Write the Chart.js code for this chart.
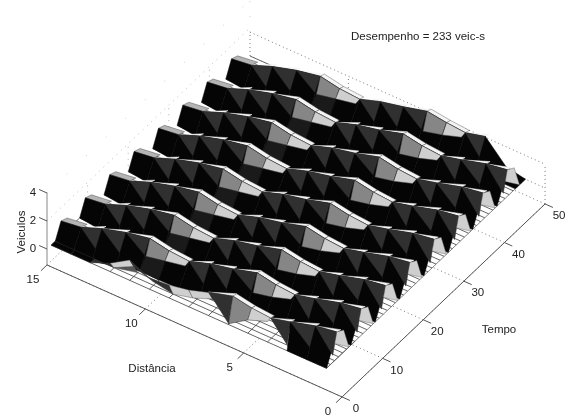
<!DOCTYPE html>
<html>
<head>
<meta charset="utf-8">
<style>html,body{margin:0;padding:0;background:#fff}canvas{display:block}</style>
<script src="https://cdn.jsdelivr.net/npm/chart.js@4/dist/chart.umd.min.js"></script>
</head>
<body>
<canvas id="grafico" width="579" height="418"></canvas>
<script>
// superficie veiculos(distancia, tempo) - cada onda e uma crista que desce a via
const distancia = [15,14,13,12,11,10,9,8,7,6,5,4,3,2,1];
const inicioOnda = [-2.55,3.45,9.45,15.45,21.45,27.45,33.45,39.45,45.45];
const avancoPico = [0,0.1,0.4,1.5,2.5,2.4,2.5,2.8,3.6,4.7,4.5,4.3,4.4,5.7,6.1];
const alturaPico = [1.05,1.2,1.65,1.7,1.63,1.4,1.25,1.62,1.66,1.71,1.54,1.51,1.83,1.81,1.9];
const quedaMeio = [1.4,1.4,1.4,1.4,1,0.45,0.05,1.4,1.4,1.15,0.6,0.05,1.4,1.4,1.4];
const recuoBase = [-1.4,-1.9,-2.5,-2.5,-2.5,-2.5,-2.5,-2.5,-2.5,-2.5,-2.5,-2.5,-2.5,-2.5,-2.5];
const tipoCelula = ['preto','escuro','escuro','escuro','cinza','claro','escuro','escuro','escuro','cinza','claro','escuro','escuro','escuro'];
// a primeira onda so aparece a partir da celula 8 e nessas celulas nao tem parede preta
const semParede = [8,9,10,11];
// primeiras linhas de tempo, antes da primeira onda completa
const frenteT1 = [0,0,0,0.6,1.45,0.8,0.92,1.2,1.65];
const frenteT2 = [0,0,0,0,0.7,0.25,0,0.35,0.9];
const corFrente = ['preto','preto','escuro','claro','escuro','escuro','claro','claro'];

const ticksDistancia = [0,5,10,15];
const ticksTempo = [0,10,20,30,40,50];
const ticksVeiculos = [0,2,4];
const zPiso = -1.14;

const cores = {preto:'#050505', escuro:'#303030', fundo:'#1a1a1a', cinza:'#868686', claro:'#cfcfcf', topo:'#f4f4f4', inicio:'#b4b4b4'};

function proj(d, t, z) {
  return {x: 47 + 4.06*t + 19.67*(15-d), y: 249 - 3.86*t + 8.8*(15-d) - 14*z};
}

const camadas = [];

function poligono(pts, cor, borda, larg) {
  camadas.push({data: [...pts, pts[0]], showLine: true, pointRadius: 0, tension: 0, fill: 'shape',
    backgroundColor: cor, borderColor: borda || cor, borderWidth: larg || 0.5});
}

function linha(pts, cor, larg, traco) {
  camadas.push({data: pts, showLine: true, pointRadius: 0, tension: 0, fill: false,
    borderColor: cor, borderWidth: larg, borderDash: traco || []});
}

// paredes e piso pontilhados
const ponto = [1,3];
ticksTempo.forEach(t => {
  linha([proj(0,t,zPiso), proj(15,t,zPiso)], '#555', 0.8, ponto);
  if (t > 0 && t < 50) linha([proj(15,t,0), proj(15,t,2)], '#999', 0.8, [1,5]);
});
ticksDistancia.forEach(d => {
  linha([proj(d,0,zPiso), proj(d,50,zPiso)], '#555', 0.8, ponto);
  linha([proj(d,50,zPiso), proj(d,50,1.7)], '#555', 0.8, ponto);
});
linha([proj(15,50,0), proj(0,50,0)], '#555', 0.8, ponto);
linha([proj(15,50,1.7), proj(0,50,1.7)], '#555', 0.8, ponto);
linha([proj(15,0,2), proj(15,50,2)], '#aaa', 0.8, [1,5]);
linha([proj(15,0,4), proj(15,50,4)], '#bbb', 0.8, [1,26]);
linha([proj(15,50,1.7), proj(15,50,4)], '#bbb', 0.8, [1,14]);

// malha no piso
poligono([proj(15,1,0), proj(1,1,0), proj(1,50,0), proj(15,50,0)], '#fff', '#fff', 0.5);
for (let t = 1; t <= 50; t++) {
  linha([proj(15,t,0), proj(1,t,0)], '#3c3c3c', 0.8);
}
distancia.forEach(d => linha([proj(d,1,0), proj(d,8,0)], '#3c3c3c', 0.8));
linha([proj(1,1,0), proj(1,50,0)], '#666', 0.8);

function pico(t0, i) {
  let t = t0 + avancoPico[i];
  let z = alturaPico[i];
  if (t > 50.5) { z = i === 13 ? 0.3 : 0; }
  return {d: distancia[i], t: Math.min(t,50), z};
}
const P = p => proj(p.d, p.t, p.z);

function desenhaOnda(t0, primeira) {
  for (let i = 0; i < 14; i++) {
    const a = pico(t0, i), b = pico(t0, i+1);
    if (a.t < 1) continue;
    const cortada = t0 + avancoPico[i+1] > 50.5;
    const queda = j => (primeira && j === 9) ? alturaPico[9] : quedaMeio[j];
    const ma = proj(a.d, Math.max(a.t-1,1), Math.max(a.z-queda(i),0));
    const mb = proj(b.d, Math.max(b.t-1,1), Math.max(b.z-queda(i+1),0));
    const ba = proj(a.d, Math.max(a.t+recuoBase[i],1), 0);
    const bb = proj(b.d, Math.max(b.t+recuoBase[i+1],1), 0);
    const tipo = cortada ? 'preto' : tipoCelula[i];
    // face de tras que aparece como fio claro
    if (!cortada) {
      const ta = proj(a.d, a.t+1, a.z-0.12), tb = proj(b.d, b.t+1, b.z-0.12);
      if (i === 0) poligono([P(a), proj(a.d,a.t+1.5,a.z-0.2), proj(b.d,b.t+1.5,b.z-0.2), P(b)], cores.inicio, '#333', 0.4);
      else if (tipo === 'cinza' || tipo === 'claro') poligono([P(a), ta, tb, P(b)], cores.topo, '#444', 0.4);
      else poligono([P(a), tb, P(b)], cores.topo);
    }
    if (!(primeira && semParede.includes(i))) poligono([P(a), P(b), bb, ba], cores.preto);
    if (tipo === 'escuro') poligono([P(a), P(b), mb], cores.escuro);
    if (tipo === 'cinza') {
      if (i === 4) poligono([ma, mb, bb, ba], cores.fundo);
      poligono([P(a), P(b), mb, ma], cores.cinza, '#333', 0.5);
    }
    if (tipo === 'claro') poligono([P(a), P(b), mb, ma], cores.claro, '#444', 0.5);
  }
  // fim da crista na borda da malha
  const f = pico(t0, 14);
  if (t0 + avancoPico[14] <= 50.5) {
    poligono([P(f), proj(f.d,f.t+1.7,f.z-0.33), proj(f.d,f.t+3,0), proj(f.d,f.t-0.5,f.z-0.7)], cores.claro, '#555', 0.4);
  }
}

for (let r = inicioOnda.length-1; r >= 0; r--) desenhaOnda(inicioOnda[r], r === 0);

// restos da onda na frente
for (let i = 0; i < corFrente.length; i++) {
  const d0 = distancia[i], d1 = distancia[i+1];
  const q = [proj(d0,1,frenteT1[i]), proj(d1,1,frenteT1[i+1]), proj(d1,2,frenteT2[i+1]), proj(d0,2,frenteT2[i])];
  poligono(q, cores[corFrente[i]], '#3c3c3c', 0.4);
}
poligono([proj(distancia[3],2,0), proj(distancia[4],2,frenteT2[4]), proj(distancia[4],3,0)], '#555');

// eixos
const corEixo = '#555';
linha([proj(15,0,zPiso), proj(0,0,zPiso)], corEixo, 1);
linha([proj(0,0,zPiso), proj(0,50,zPiso)], corEixo, 1);
linha([proj(15,0,zPiso), proj(15,0,4)], '#888', 1);
ticksVeiculos.forEach(v => linha([proj(15,0,v), proj(15.4,0,v)], corEixo, 1));
ticksDistancia.forEach(d => linha([proj(d,0,zPiso), proj(d,-1.5,zPiso)], corEixo, 1));
ticksTempo.forEach(t => linha([proj(0,t,zPiso), proj(-0.4,t,zPiso)], corEixo, 1));

const textos = {
  id: 'textos',
  afterDraw(chart) {
    const {ctx, scales:{x, y}} = chart;
    const escreve = (s, px, py, rot) => {
      ctx.save();
      ctx.translate(x.getPixelForValue(px), y.getPixelForValue(py));
      if (rot) ctx.rotate(rot);
      ctx.fillText(s, 0, 0);
      ctx.restore();
    };
    ctx.save();
    ctx.font = '11.5px "Liberation Sans", Arial, sans-serif';
    ctx.fillStyle = '#222';
    ctx.textAlign = 'center';
    ctx.textBaseline = 'middle';
    ticksVeiculos.forEach(v => { const p = proj(15,0,v); escreve(String(v), p.x-14, p.y); });
    ticksDistancia.forEach(d => { const p = proj(d,0,zPiso); escreve(String(d), p.x-14, p.y+15); });
    ticksTempo.forEach(t => { const p = proj(0,t,zPiso); escreve(String(t), p.x+14, p.y+12); });
    escreve('Veiculos', 22, 232, -Math.PI/2);
    escreve('Distância', 152, 369);
    escreve('Tempo', 499, 330);
    escreve('Desempenho = 233 veic-s', 418, 37);
    ctx.restore();
  }
};

new Chart(document.getElementById('grafico'), {
  type: 'scatter',
  data: {datasets: camadas.reverse()},
  options: {
    responsive: false,
    animation: false,
    events: [],
    layout: {padding: 0},
    plugins: {legend: {display: false}, tooltip: {enabled: false}, title: {display: false}},
    scales: {
      x: {type: 'linear', min: 0, max: 579, display: false},
      y: {type: 'linear', min: 0, max: 418, reverse: true, display: false}
    }
  },
  plugins: [textos]
});
</script>
</body>
</html>
